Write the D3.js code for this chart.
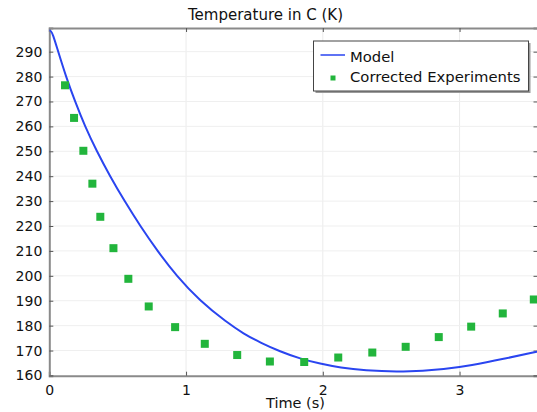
<!DOCTYPE html>
<html>
<head>
<meta charset="utf-8">
<script src="https://cdn.jsdelivr.net/npm/d3@7"></script>
<style>
  html, body { margin: 0; padding: 0; background: #fff; }
  svg { display: block; font-family: "DejaVu Sans", sans-serif; }
</style>
</head>
<body>
<svg id="chart" width="537" height="412"></svg>
<script>
// ---- data ----
const title = "Temperature in C (K)";
const xLabel = "Time (s)";
const seriesNames = ["Model", "Corrected Experiments"];
const xTicks = [0, 1, 2, 3];
const yTicks = [160, 170, 180, 190, 200, 210, 220, 230, 240, 250, 260, 270, 280, 290];

const modelTime = [0, 0.01, 0.025, 0.065, 0.122, 0.188, 0.261, 0.347, 0.444, 0.55, 0.665, 0.79, 0.93, 1.10, 1.30, 1.42, 1.542, 1.688, 1.835, 1.98, 2.13, 2.3, 2.58, 2.91, 3.08, 3.32, 3.57];
const modelTemp = [298.6, 298.4, 297.3, 290, 280, 270, 260, 250, 240, 230, 220, 210, 200, 190, 181.2, 176.8, 173.2, 169.6, 166.7, 164.7, 163.1, 162.0, 161.3, 162.6, 164.0, 166.6, 169.6];

const expTime = [0.115, 0.181, 0.249, 0.315, 0.373, 0.469, 0.578, 0.727, 0.920, 1.137, 1.374, 1.613, 1.864, 2.113, 2.362, 2.606, 2.848, 3.085, 3.316, 3.543];
const expTemp = [276.5, 263.4, 250.2, 237.0, 223.7, 211.1, 198.8, 187.7, 179.4, 172.7, 168.2, 165.6, 165.4, 167.2, 169.2, 171.5, 175.4, 179.6, 184.9, 190.5];

// ---- layout ----
const svg = d3.select("#chart");
const L = 49.3, R = 537.5, T = 28, B = 375.7;
const x = d3.scaleLinear().domain([0, 3.57]).range([L, R]);
const y = d3.scaleLinear().domain([159.9, 299.5]).range([B, T]);

const blue = "#2a45f0", green = "#22b53c", frame = "#8a8a8a";

// grid
const grid = svg.append("g");
grid.selectAll(".gx").data(xTicks.filter(d => d > 0)).join("line")
  .attr("x1", d => x(d)).attr("x2", d => x(d)).attr("y1", T).attr("y2", B)
  .attr("stroke", "#ececec").attr("stroke-width", 1);
grid.selectAll(".gy").data(yTicks.filter(d => d > 160)).join("line")
  .attr("x1", L).attr("x2", R).attr("y1", d => y(d)).attr("y2", d => y(d))
  .attr("stroke", "#efefef").attr("stroke-width", 1);

// axes (ticks inward)
const axB = d3.axisBottom(x).tickValues(xTicks).tickSize(-4).tickPadding(9).tickFormat(d3.format("d"));
const axT = d3.axisTop(x).tickValues(xTicks).tickSize(-4).tickFormat("");
const axLft = d3.axisLeft(y).tickValues(yTicks).tickSize(-4).tickPadding(7).tickFormat(d3.format("d"));
const axRt = d3.axisRight(y).tickValues(yTicks).tickSize(-4).tickFormat("");

function style(g) {
  g.select(".domain").attr("stroke", frame).attr("stroke-width", 2);
  g.selectAll(".tick line").attr("stroke", "#555").attr("stroke-width", 1);
  g.selectAll(".tick text").attr("fill", "#111").style("font-size", "14px").style("font-family", "DejaVu Sans, sans-serif");
}
svg.append("g").attr("transform", `translate(0,${B})`).call(axB).call(style);
svg.append("g").attr("transform", `translate(0,${T})`).call(axT).call(style);
svg.append("g").attr("transform", `translate(${L},0)`).call(axLft).call(style);
svg.append("g").attr("transform", `translate(${R},0)`).call(axRt).call(style);

// model curve
svg.append("clipPath").attr("id", "clip").append("rect")
  .attr("x", L).attr("y", T).attr("width", R - L).attr("height", B - T);
const modelData = modelTime.map((t, i) => [t, modelTemp[i]]);
svg.append("path").datum(modelData)
  .attr("clip-path", "url(#clip)")
  .attr("fill", "none").attr("stroke", blue).attr("stroke-width", 2)
  .attr("d", d3.line().x(d => x(d[0])).y(d => y(d[1])).curve(d3.curveBasis));

// experiments
const sq = 8;
svg.append("g").selectAll("rect").data(expTime.map((t, i) => [t, expTemp[i]])).join("rect")
  .attr("x", d => x(d[0]) - sq / 2).attr("y", d => y(d[1]) - sq / 2)
  .attr("width", sq).attr("height", sq).attr("fill", green);

// title & labels
svg.append("text").attr("x", 265.5).attr("y", 20).attr("text-anchor", "middle")
  .style("font-size", "15px").attr("fill", "#111").text(title);
svg.append("text").attr("x", 295.5).attr("y", 407.5).attr("text-anchor", "middle")
  .style("font-size", "14.5px").attr("fill", "#111").text(xLabel);

// legend
const lg = svg.append("g");
const lx = 313.5, ly = 41, lw = 215, lh = 50;
lg.append("rect").attr("x", lx + 2).attr("y", ly + 2).attr("width", lw).attr("height", lh).attr("fill", "#9a9a9a");
lg.append("rect").attr("x", lx).attr("y", ly).attr("width", lw).attr("height", lh).attr("fill", "#fff")
  .attr("stroke", "#444").attr("stroke-width", 1);
lg.append("line").attr("x1", 320.5).attr("x2", 345).attr("y1", 55).attr("y2", 55).attr("stroke", blue).attr("stroke-width", 1.5);
lg.append("rect").attr("x", 330.5).attr("y", 75.5).attr("width", 5).attr("height", 5).attr("fill", green);
lg.append("text").attr("x", 350).attr("y", 61.5).style("font-size", "14.8px").attr("fill", "#111").text(seriesNames[0]);
lg.append("text").attr("x", 350).attr("y", 81.5).style("font-size", "14.8px").attr("fill", "#111").text(seriesNames[1]);
</script>
</body>
</html>
